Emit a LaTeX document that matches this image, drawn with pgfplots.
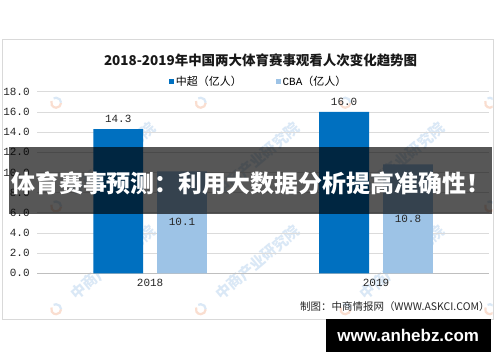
\documentclass[border=0pt]{standalone}
\usepackage{pgfplots}
\pgfplotsset{compat=1.18}
\usepackage{fontspec}
\setmainfont{Liberation Mono}
\newfontfamily\cjk{Noto Sans CJK SC}
\newfontfamily\monof{Liberation Mono}
\newfontfamily\sansb{Liberation Sans}
\definecolor{cone}{HTML}{0070C0}
\definecolor{ctwo}{HTML}{9DC3E6}
\definecolor{wm}{RGB}{218,232,246}
\definecolor{wmo}{RGB}{250,222,208}
\begin{document}
\begin{tikzpicture}[x=1pt,y=1pt]
\fill[white] (0,0) rectangle (500,362);
\draw[gray!30, line width=0.8pt] (1,42) rectangle (493,323);
% watermarks
\begin{scope}
\clip (1.5,42.5) rectangle (492.5,322.5);
\foreach \cx in {55,200,345}{
  \foreach \ry in {207,310}{
    \node[rotate=40, text=wm, font=\cjk\bfseries\fontsize{15}{15}\selectfont] at (\cx+57, 362-\ry+47) {中商产业研究院};
  }
}
\foreach \cx in {55,200,345,490}{
  \foreach \ry in {103,207,310}{
    \draw[wmo, line width=2.2pt] (\cx+5, 362-\ry) arc (0:-200:5);
    \draw[wm, line width=2.2pt] (\cx+5, 362-\ry) arc (0:120:5);
  }
}
\end{scope}
\node[font=\cjk\bfseries\fontsize{13.5}{13.5}\selectfont, text=black!90] at (260,302) {2018-2019年中国两大体育赛事观看人次变化趋势图};
\begin{axis}[
  at={(36pt,88pt)}, anchor=south west,
  scale only axis, width=453pt, height=182pt,
  xmin=-0.5, xmax=1.5, ymin=0, ymax=18,
  ybar, bar width=50pt,
  xtick={0,1}, xticklabels={2018,2019},
  ytick={0,2,...,18},
  ymajorgrids, grid style={color=black!14, line width=0.8pt},
  axis x line*=bottom, axis y line*=left,
  y axis line style={draw=none},
  x axis line style={color=black!25, line width=0.8pt},
  major tick length=0pt,
  /pgf/number format/.cd, fixed, zerofill, precision=1, assume math mode=true,
  /pgfplots/.cd,
  tick label style={font=\monof\fontsize{11}{11}\selectfont, text=black!85},
  yticklabel style={xshift=-4pt},
  xticklabel style={yshift=-2pt},
  legend style={at={(0.49,1.055)}, anchor=center, draw=none, fill=none,
    legend columns=2, font=\cjk\fontsize{11}{11}\selectfont,
    /tikz/every even column/.append style={column sep=32pt}},
  legend image code/.code={\fill[#1] (0pt,-2.5pt) rectangle (5pt,2.5pt);},
]
\addplot[fill=cone, draw=none, bar shift=-32pt,
  nodes near coords,
  nodes near coords style={font=\monof\fontsize{11}{11}\selectfont, text=black!85, yshift=3pt}]
  coordinates {(0,14.3) (1,16.0)};
\addlegendentry{中超（亿人）}
\addplot[fill=ctwo, draw=none, bar shift=32pt,
  visualization depends on={rawy\as\rawy},
  nodes near coords,
  nodes near coords style={font=\monof\fontsize{11}{11}\selectfont, text=black!85, anchor=center, yshift={-\rawy*5.0556pt}}]
  coordinates {(0,10.1) (1,10.8)};
\addlegendentry{\monof CBA\cjk（亿人）}
\end{axis}
\node[anchor=east, font=\cjk\fontsize{10.5}{10.5}\selectfont, text=black!85] at (493,55) {制图：中商情报网（WWW.ASKCI.COM）};
\fill[black, opacity=0.66] (8,147) rectangle (492,215);
\node[text=white, font=\cjk\bfseries\fontsize{24}{24}\selectfont] at (250,178) {体育赛事预测：利用大数据分析提高准确性！};
\fill[black] (326,9) rectangle (491,42);
\node[text=white, font=\sansb\bfseries\fontsize{17}{17}\selectfont] at (408,26) {www.anhebz.com};
\end{tikzpicture}
\end{document}
